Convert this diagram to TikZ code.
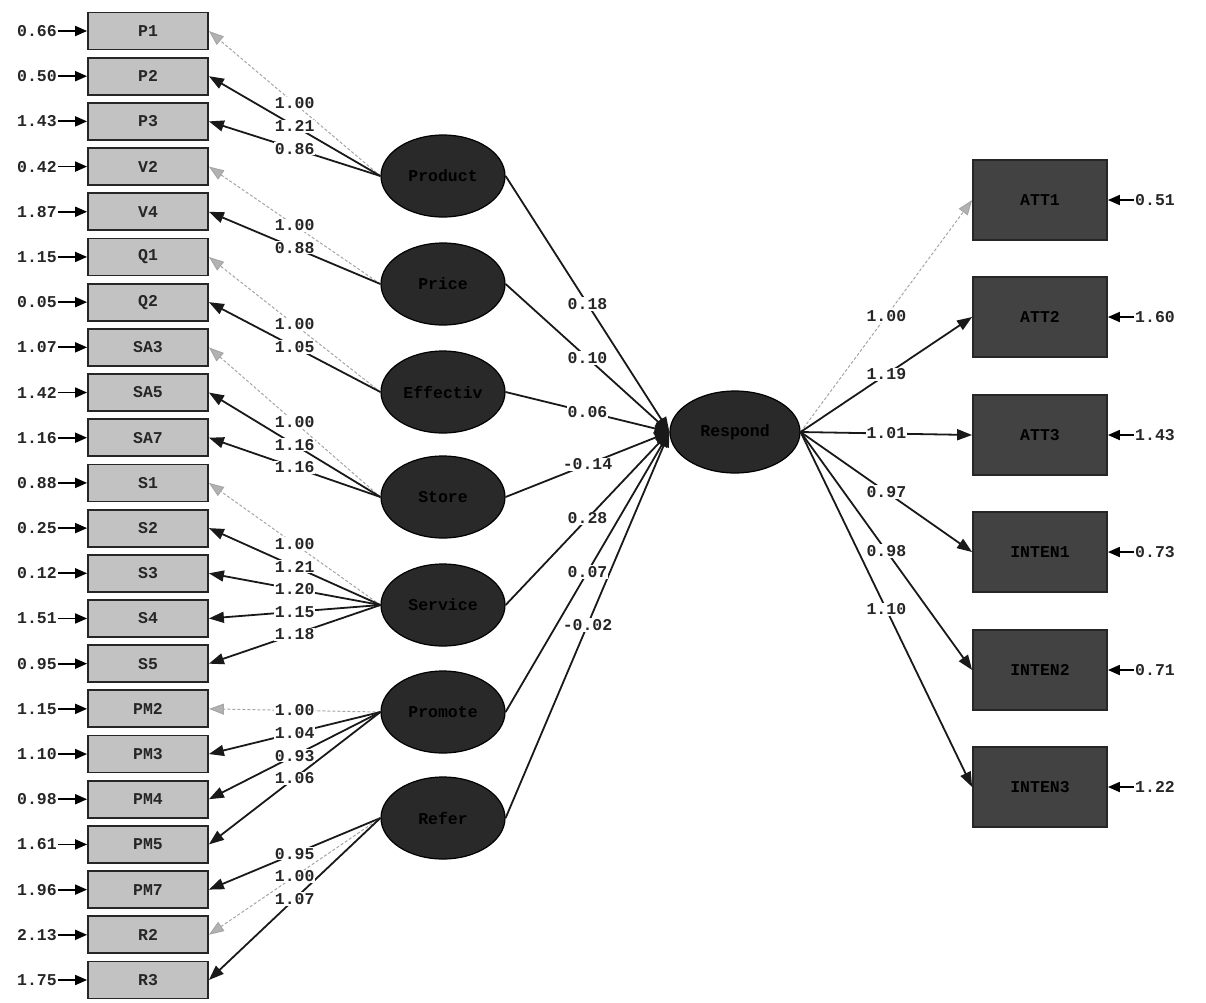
\documentclass[tikz,border=0pt]{standalone}
\usepackage{fontspec}
\newfontfamily\mono{Liberation Mono}
\usetikzlibrary{arrows.meta,shapes.geometric}
\begin{document}
\begin{tikzpicture}[x=1pt,y=-1pt,
  num/.style={font=\mono\bfseries\fontsize{16.5}{16.5}\selectfont, text=black!85},
  obsL/.style={rectangle, draw=black!85, line width=1.8pt, fill=black!24, minimum width=120pt, minimum height=37pt, inner sep=0pt, num},
  obsR/.style={rectangle, draw=black!85, line width=1.8pt, fill=black!74, minimum width=134pt, minimum height=80pt, inner sep=0pt, num, text=black},
  lat/.style={ellipse, draw=black, line width=1.2pt, fill=black!84, minimum width=124pt, minimum height=82pt, inner sep=0pt, num, text=black},
  lbl/.style={num, fill=white, inner sep=1pt},
  load/.style={draw=black!90, line width=1.8pt, -{Triangle[length=15pt,width=11pt]}},
  fixd/.style={draw=black!35, line width=1pt, densely dashed, -{Triangle[length=15pt,width=11pt,fill=black!30]}},
  err/.style={draw=black, line width=1.8pt, -{Triangle[length=12pt,width=10pt]}},
]
\useasboundingbox (0,0) rectangle (1206,1002);

% left observed variables with error variances
\foreach \lab/\e [count=\i from 0] in {P1/0.66,P2/0.50,P3/1.43,V2/0.42,V4/1.87,Q1/1.15,Q2/0.05,SA3/1.07,SA5/1.42,SA7/1.16,S1/0.88,S2/0.25,S3/0.12,S4/1.51,S5/0.95,PM2/1.15,PM3/1.10,PM4/0.98,PM5/1.61,PM7/1.96,R2/2.13,R3/1.75}{
  \pgfmathsetmacro\yy{31+\i*45.19}
  \node[obsL] (\lab) at (148,\yy) {\lab};
  \node[num, anchor=east, inner sep=1pt] (e\lab) at (58,\yy) {\e};
  \draw[err] (e\lab.east) -- (\lab.west);
}

% latent exogenous variables
\node[lat] (Product)  at (443,176) {Product};
\node[lat] (Price)    at (443,284) {Price};
\node[lat] (Effectiv) at (443,392) {Effectiv};
\node[lat] (Store)    at (443,497) {Store};
\node[lat] (Service)  at (443,605) {Service};
\node[lat] (Promote)  at (443,712) {Promote};
\node[lat] (Refer)    at (443,818) {Refer};

% latent endogenous
\node[lat, minimum width=130pt] (Respond) at (735,432) {Respond};

% right observed variables
\foreach \lab/\e/\yy in {ATT1/0.51/200,ATT2/1.60/317,ATT3/1.43/435,INTEN1/0.73/552,INTEN2/0.71/670,INTEN3/1.22/787}{
  \node[obsR] (\lab) at (1040,\yy) {\lab};
  \node[num, anchor=west, inner sep=1pt] (e\lab) at (1134,\yy) {\e};
  \draw[err] (e\lab.west) -- (\lab.east);
}

% left loadings: lines
\foreach \f/\o/\v/\st in {Product/P1/1.00/fixd,Product/P2/1.21/load,Product/P3/0.86/load,Price/V2/1.00/fixd,Price/V4/0.88/load,Effectiv/Q1/1.00/fixd,Effectiv/Q2/1.05/load,Store/SA3/1.00/fixd,Store/SA5/1.16/load,Store/SA7/1.16/load,Service/S1/1.00/fixd,Service/S2/1.21/load,Service/S3/1.20/load,Service/S4/1.15/load,Service/S5/1.18/load,Promote/PM2/1.00/fixd,Promote/PM3/1.04/load,Promote/PM4/0.93/load,Promote/PM5/1.06/load,Refer/PM7/0.95/load,Refer/R2/1.00/fixd,Refer/R3/1.07/load}{
  \draw[\st] (\f.west) -- (\o.east);
}
% structural paths: lines
\foreach \f/\v in {Product/0.18,Price/0.10,Effectiv/0.06,Store/-0.14,Service/0.28,Promote/0.07,Refer/-0.02}{
  \draw[load] (\f.east) -- (Respond.west);
}
% right loadings: lines
\foreach \o/\v/\st in {ATT1/1.00/fixd,ATT2/1.19/load,ATT3/1.01/load,INTEN1/0.97/load,INTEN2/0.98/load,INTEN3/1.10/load}{
  \draw[\st] (Respond.east) -- (\o.west);
}

% labels on top
\foreach \f/\o/\v in {Product/P1/1.00,Product/P2/1.21,Product/P3/0.86,Price/V2/1.00,Price/V4/0.88,Effectiv/Q1/1.00,Effectiv/Q2/1.05,Store/SA3/1.00,Store/SA5/1.16,Store/SA7/1.16,Service/S1/1.00,Service/S2/1.21,Service/S3/1.20,Service/S4/1.15,Service/S5/1.18,Promote/PM2/1.00,Promote/PM3/1.04,Promote/PM4/0.93,Promote/PM5/1.06,Refer/PM7/0.95,Refer/R2/1.00,Refer/R3/1.07}{
  \path (\f.west) -- node[lbl] {\v} (\o.east);
}
\foreach \f/\v in {Product/0.18,Price/0.10,Effectiv/0.06,Store/-0.14,Service/0.28,Promote/0.07,Refer/-0.02}{
  \path (\f.east) -- node[lbl] {\v} (Respond.west);
}
\foreach \o/\v in {ATT1/1.00,ATT2/1.19,ATT3/1.01,INTEN1/0.97,INTEN2/0.98,INTEN3/1.10}{
  \path (Respond.east) -- node[lbl] {\v} (\o.west);
}
\end{tikzpicture}
\end{document}
